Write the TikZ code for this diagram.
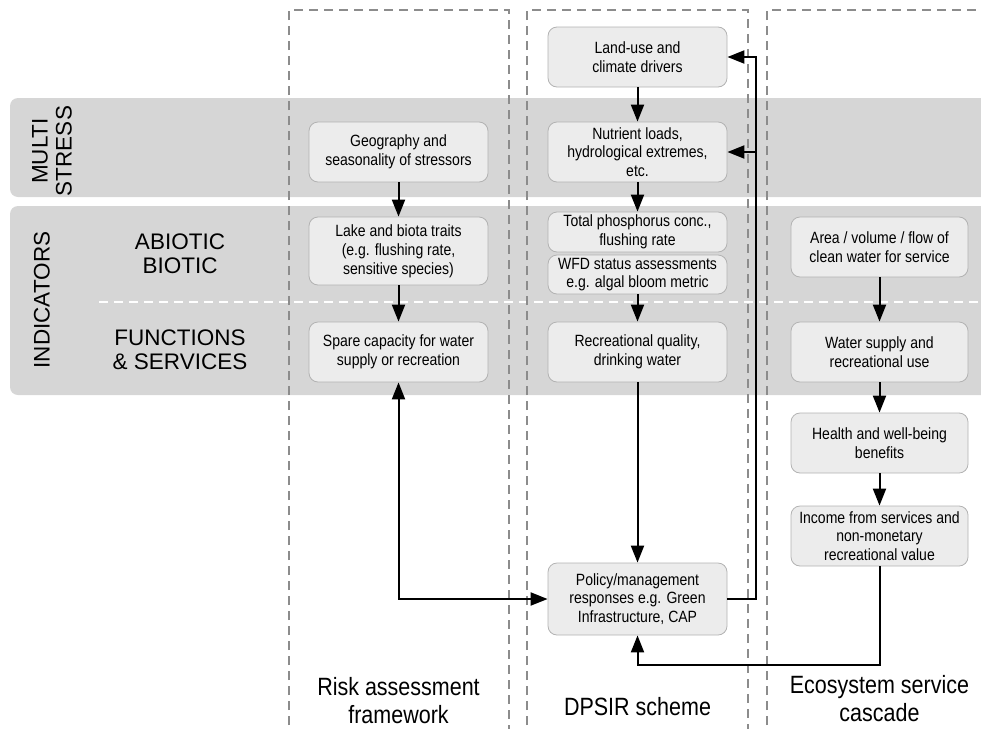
\documentclass[tikz,border=0pt]{standalone}
\usepackage{fontspec}
\setmainfont{Liberation Sans}
\newfontfamily\narfont[FakeStretch=0.86]{Liberation Sans}
\usetikzlibrary{arrows.meta}
\definecolor{bandgray}{RGB}{214,214,214}
\definecolor{boxfill}{RGB}{236,236,236}
\definecolor{boxline}{RGB}{178,178,178}
\definecolor{colline}{RGB}{140,140,140}
\tikzset{
  stagebox/.style={draw=boxline, fill=boxfill, rounded corners=9pt, line width=0.8pt,
    inner sep=0pt, minimum width=179pt, align=center,
    font=\narfont\fontsize{16.3}{18.8}\selectfont},
  tip/.tip={Triangle[length=17pt,width=13pt]},
  arr/.style={line width=2pt, -tip},
  arrboth/.style={line width=2pt, tip-tip},
  colbox/.style={draw=colline, line width=1.2pt, dash pattern=on 9pt off 6pt},
  bandlabel/.style={align=center, font=\fontsize{22.5}{24}\selectfont},
  bottomlabel/.style={align=center, font=\narfont\fontsize{25}{28}\selectfont}
}
\begin{document}
\begin{tikzpicture}[x=1pt,y=-1pt]
\clip (0,0) rectangle (981,728);
\useasboundingbox (0,0) rectangle (981,728);
% bands
\fill[bandgray, rounded corners=8pt] (10,98) rectangle (1010,197);
\fill[bandgray, rounded corners=8pt] (10,206) rectangle (1010,395);
\draw[white, line width=1.6pt, dash pattern=on 9pt off 6pt] (99,302) -- (990,302);
% dashed columns
\draw[colbox] (289,740) -- (289,10) -- (509,10) -- (509,740);
\draw[colbox] (527,740) -- (527,10) -- (748,10) -- (748,740);
\draw[colbox] (767,740) -- (767,10) -- (995,10);
% band labels
\node[bandlabel, rotate=90] (multi) at (52,151) {MULTI\\STRESS};
\node[bandlabel, rotate=90] (indic) at (42,300) {INDICATORS};
\node[bandlabel] (abio) at (180,254) {ABIOTIC\\BIOTIC};
\node[bandlabel] (func) at (180,350) {FUNCTIONS\\\& SERVICES};
% column 1
\node[stagebox, minimum height=60pt] (geo) at (398.5,152) {Geography and\\seasonality of stressors};
\node[stagebox, minimum height=68pt] (lake) at (398.5,251) {Lake and biota traits\\(e.g. flushing rate,\\sensitive species)};
\node[stagebox, minimum height=60pt] (spare) at (398.5,352) {Spare capacity for water\\supply or recreation};
% column 2
\node[stagebox, minimum height=60pt] (land) at (637.5,57) {Land-use and\\climate drivers};
\node[stagebox, minimum height=60pt] (nutr) at (637.5,152) {Nutrient loads,\\hydrological extremes,\\etc.};
\node[stagebox, minimum height=40pt] (tp) at (637.5,232) {Total phosphorus conc.,\\flushing rate};
\node[stagebox, minimum height=39pt] (wfd) at (637.5,274.5) {WFD status assessments\\e.g. algal bloom metric};
\node[stagebox, minimum height=60pt] (rec) at (637.5,352) {Recreational quality,\\drinking water};
\node[stagebox, minimum height=72pt] (pol) at (637.5,599) {Policy/management\\responses e.g. Green\\Infrastructure, CAP};
% column 3
\node[stagebox, minimum width=177pt, minimum height=60pt] (area) at (879.5,247) {Area / volume / flow of\\clean water for service};
\node[stagebox, minimum width=177pt, minimum height=60pt] (water) at (879.5,352) {Water supply and\\recreational use};
\node[stagebox, minimum width=177pt, minimum height=60pt] (health) at (879.5,443) {Health and well-being\\benefits};
\node[stagebox, minimum width=177pt, minimum height=60pt] (income) at (879.5,536) {Income from services and\\non-monetary\\recreational value};
% bottom labels
\node[bottomlabel] (risk) at (398.5,701) {Risk assessment\\framework};
\node[bottomlabel] (dpsir) at (637.5,707) {DPSIR scheme};
\node[bottomlabel] (eco) at (879.5,699) {Ecosystem service\\cascade};
% arrows
\draw[arr] (geo) -- (lake);
\draw[arr] (lake) -- (spare);
\draw[arr] (land) -- (nutr);
\draw[arr] (nutr) -- (tp);
\draw[arr] (wfd) -- (rec);
\draw[arr] (rec) -- (pol);
\draw[arr] (area) -- (water);
\draw[arr] (water) -- (health);
\draw[arr] (health) -- (income);
\coordinate (loopy) at (0,665);
\draw[arr] (income.south) |- (loopy -| pol.south) -- (pol.south);
\draw[arrboth] (pol.west) -| (spare.south);
\coordinate (fbx) at (756,0);
\draw[arr] (pol.east) -| (fbx |- land.east) -- (land.east);
\draw[arr] (fbx |- nutr.east) -- (nutr.east);
\end{tikzpicture}
\end{document}
